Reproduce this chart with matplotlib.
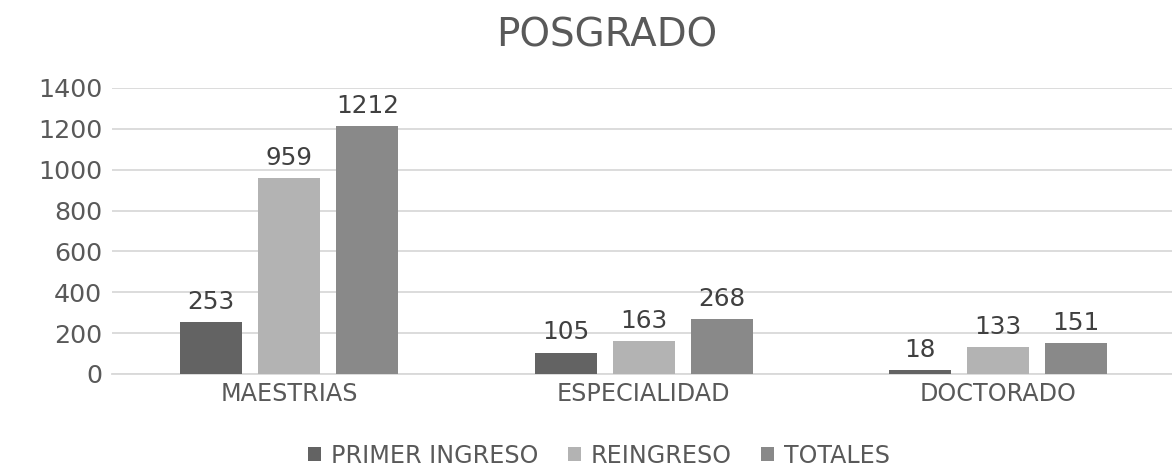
import matplotlib
matplotlib.use("Agg")
import matplotlib.pyplot as plt
import numpy as np

categories = ["MAESTRIAS", "ESPECIALIDAD", "DOCTORADO"]
series_names = ["PRIMER INGRESO", "REINGRESO", "TOTALES"]
primer_ingreso = [253, 105, 18]
reingreso = [959, 163, 133]
totales = [1212, 268, 151]
y_ticks = [0, 200, 400, 600, 800, 1000, 1200, 1400]

colors = ["#636363", "#b3b3b3", "#898989"]
text_color = "#595959"

fig = plt.figure(figsize=(11.72, 4.68), dpi=100)
ax = fig.add_axes([0.0956, 0.2009, 0.9075, 0.6111])

x = np.arange(len(categories))
width = 0.175
offsets = [-0.22, 0.0, 0.22]
for vals, name, c, off in zip([primer_ingreso, reingreso, totales], series_names, colors, offsets):
    bars = ax.bar(x + off, vals, width, color=c, label=name, zorder=3)
    for b, v in zip(bars, vals):
        ax.text(b.get_x() + b.get_width() / 2, v + 40, str(v), ha="center", va="bottom",
                fontsize=17.8, color="#404040")

ax.set_xlim(-0.5, 2.5)
ax.set_ylim(0, 1400)
ax.set_yticks(y_ticks)
ax.set_yticklabels([str(t) for t in y_ticks], fontsize=18.3, color=text_color)
ax.set_xticks(x)
ax.set_xticklabels(categories, fontsize=17.2, color=text_color)
ax.tick_params(axis="x", length=0, pad=6)
ax.tick_params(axis="y", length=0, pad=7)
ax.yaxis.grid(True, color="#d9d9d9", linewidth=1.3, zorder=0)
ax.set_axisbelow(True)
for s in ["top", "right", "left"]:
    ax.spines[s].set_visible(False)
ax.spines["bottom"].set_color("#d9d9d9")
ax.spines["bottom"].set_linewidth(1.3)

fig.suptitle("POSGRADO", fontsize=28, color=text_color, x=0.518, y=0.965)

leg = fig.legend(loc="lower center", bbox_to_anchor=(0.511, -0.045), ncol=3, frameon=False,
                 fontsize=17.1, handlelength=0.55, handleheight=0.55, handletextpad=0.4,
                 columnspacing=1.25)
for t in leg.get_texts():
    t.set_color(text_color)

fig.savefig("out.png", dpi=100, facecolor="white")
